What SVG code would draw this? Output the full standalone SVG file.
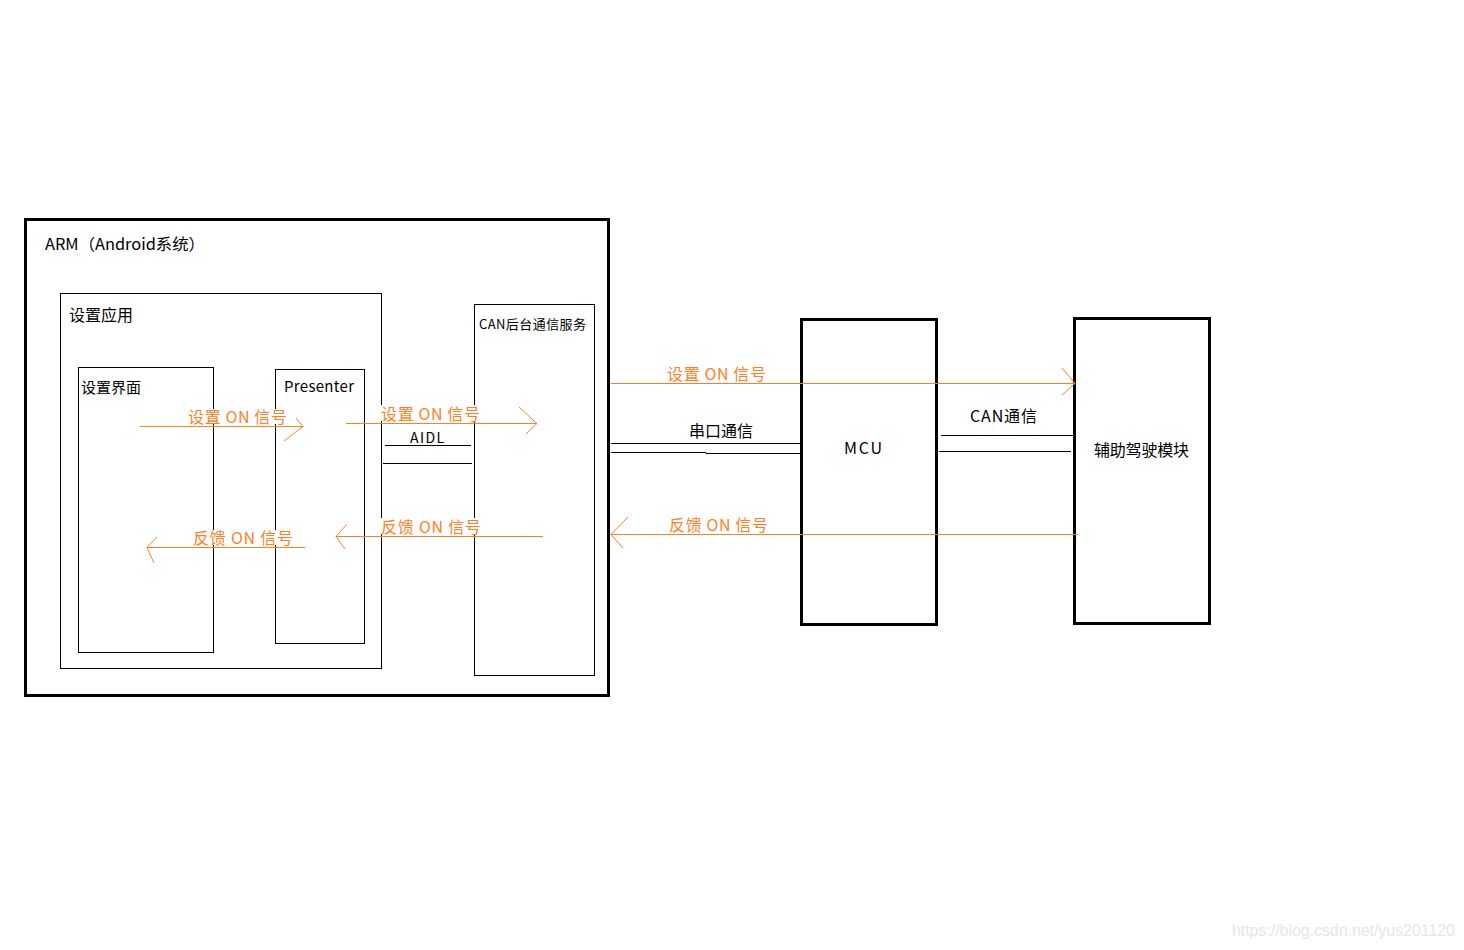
<svg xmlns="http://www.w3.org/2000/svg" width="1464" height="950" viewBox="0 0 1464 950">
<style>
.box{fill:none;stroke:#000;stroke-width:1}
.thick{fill:none;stroke:#000;stroke-width:3}
.ln{stroke:#000;stroke-width:1;fill:none}
.or{stroke:#FF7F27;stroke-width:1;fill:none}
.bg{fill:#fff;stroke:none}
text{font-family:"Noto Sans CJK SC","Noto Sans",sans-serif;fill:#000}
.ot{fill:#FF7F27;font-size:16px}
.wm{font-family:"Liberation Sans",Arial,sans-serif;fill:#e6e6e6;font-size:16px}
</style>
<rect width="1464" height="950" fill="#fff"/>
<g id="arm">
<rect class="thick" x="25.5" y="219.5" width="583" height="476"/>
<text x="45" y="250" font-size="16" textLength="160" lengthAdjust="spacingAndGlyphs">ARM（Android系统）</text>
</g>
<g id="settings-app">
<rect class="box" x="60.5" y="293.5" width="321" height="375"/>
<text x="69" y="321" font-size="16" textLength="64">设置应用</text>
</g>
<g id="settings-ui">
<rect class="box" x="78.5" y="367.5" width="135" height="285"/>
<text x="81" y="393" font-size="15" textLength="60">设置界面</text>
</g>
<g id="presenter">
<rect class="box" x="275.5" y="369.5" width="89" height="274"/>
<text x="284" y="392" font-size="15" textLength="70">Presenter</text>
</g>
<g id="can-service">
<rect class="box" x="474.5" y="304.5" width="120" height="371"/>
<text x="479" y="329" font-size="13" textLength="107">CAN后台通信服务</text>
</g>
<g id="mcu">
<rect class="thick" x="801.5" y="319.5" width="135" height="305"/>
<text x="844" y="454" font-size="16" textLength="38">MCU</text>
</g>
<g id="adas">
<rect class="thick" x="1074.5" y="318.5" width="135" height="305"/>
<text x="1094" y="456" font-size="16" textLength="95">辅助驾驶模块</text>
</g>
<g id="label-bg">
<rect class="bg" x="187" y="409" width="101" height="15"/>
<rect class="bg" x="192" y="530" width="101" height="15"/>
<rect class="bg" x="380" y="405" width="100" height="16"/>
<rect class="bg" x="380" y="518" width="101" height="16"/>
</g>
<g id="connectors">
<line class="or" x1="140" y1="426.5" x2="303" y2="426.5"/>
<polyline class="or" points="296,418 303,426.5 284,441"/>
<line class="or" x1="346" y1="423.5" x2="537" y2="423.5"/>
<polyline class="or" points="519,407 537,423.5 526,434"/>
<line class="or" x1="147" y1="547.5" x2="305" y2="547.5"/>
<polyline class="or" points="157,537 147,547.5 154,563"/>
<line class="or" x1="336" y1="536.5" x2="543" y2="536.5"/>
<polyline class="or" points="347,524 336,536.5 345,549"/>
<line class="or" x1="611" y1="383.5" x2="1075" y2="383.5"/>
<polyline class="or" points="1062,368 1075,383.5 1062,395"/>
<line class="or" x1="611" y1="534.5" x2="1078" y2="534.5"/>
<polyline class="or" points="628,517 611,534.5 623,548"/>
<line class="ln" x1="385" y1="445.5" x2="471" y2="445.5"/>
<line class="ln" x1="383" y1="463.5" x2="472" y2="463.5"/>
<line class="ln" x1="611" y1="443.5" x2="800" y2="443.5"/>
<polyline class="ln" points="611,452.5 706,452.5 706,453.5 800,453.5"/>
<line class="ln" x1="941" y1="435.5" x2="1073" y2="435.5"/>
<line class="ln" x1="939" y1="451.5" x2="1071" y2="451.5"/>
</g>
<g id="labels">
<text class="ot" x="188" y="423" textLength="99">设置 ON 信号</text>
<text class="ot" x="381" y="420" textLength="99">设置 ON 信号</text>
<text class="ot" x="193" y="544" textLength="100">反馈 ON 信号</text>
<text class="ot" x="381" y="533" textLength="100">反馈 ON 信号</text>
<text class="ot" x="667" y="380" textLength="99">设置 ON 信号</text>
<text class="ot" x="669" y="531" textLength="99">反馈 ON 信号</text>
<text x="410" y="443" font-size="14" textLength="34">AIDL</text>
<text x="689" y="437" font-size="16" textLength="64">串口通信</text>
<text x="970" y="422" font-size="16" textLength="67">CAN通信</text>
</g>
<text class="wm" x="1232" y="936" textLength="223">https://blog.csdn.net/yus201120</text>
</svg>
